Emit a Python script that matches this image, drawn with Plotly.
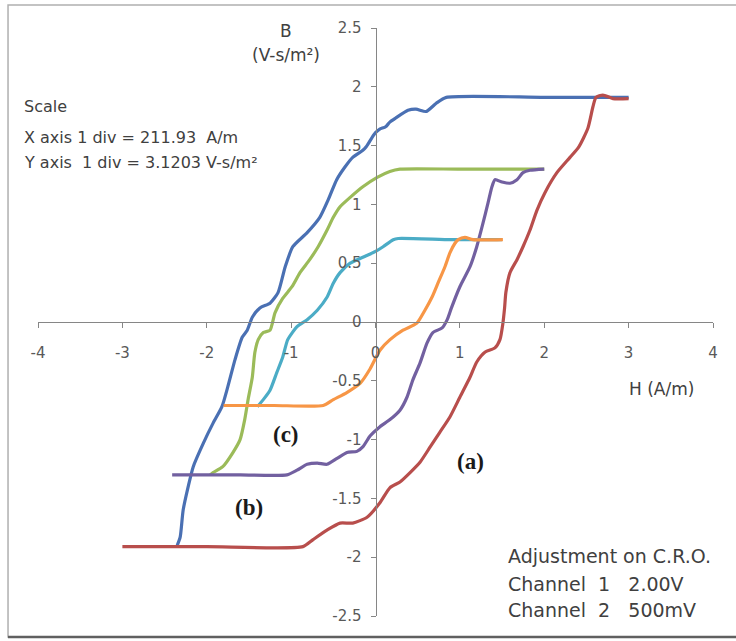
import plotly.graph_objects as go

# ---- data (H in A/m, B in V-s/m^2) ----
a_upper_H = [3.0, 2.0, 0.84, 0.72, 0.60, 0.48, 0.385, 0.24, 0.17, 0.12, 0.05, 0.0, -0.04, -0.11, -0.15,
             -0.27, -0.36, -0.46, -0.56, -0.66, -0.81, -0.98, -1.07, -1.155, -1.25, -1.37, -1.46,
             -1.52, -1.58, -1.665, -1.75, -1.82, -1.925, -2.04, -2.16, -2.22, -2.28, -2.315, -2.35]
a_upper_B = [1.91, 1.91, 1.91, 1.86, 1.79, 1.81, 1.80, 1.735, 1.70, 1.66, 1.64, 1.61, 1.57, 1.49, 1.46,
             1.40, 1.32, 1.21, 1.04, 0.89, 0.76, 0.64, 0.47, 0.25, 0.16, 0.12, 0.04,
             -0.07, -0.13, -0.32, -0.55, -0.72, -0.86, -1.03, -1.23, -1.40, -1.60, -1.83, -1.90]

a_lower_H = [-3.0, -2.0, -0.86, -0.74, -0.575, -0.42, -0.27, -0.10, 0.05, 0.17, 0.29, 0.41, 0.53, 0.65,
             0.76, 0.88, 1.0, 1.12, 1.20, 1.30, 1.415, 1.475, 1.51, 1.53, 1.545, 1.594, 1.677, 1.748,
             1.83, 1.913, 2.008, 2.15, 2.305, 2.41, 2.518, 2.577, 2.613, 2.696, 2.814, 3.0]
a_lower_B = [-1.91, -1.91, -1.91, -1.85, -1.77, -1.71, -1.71, -1.66, -1.54, -1.41, -1.36, -1.28, -1.19, -1.06,
             -0.94, -0.81, -0.64, -0.47, -0.34, -0.255, -0.22, -0.15, -0.01, 0.12, 0.25, 0.42, 0.53, 0.64,
             0.78, 0.95, 1.10, 1.27, 1.40, 1.49, 1.65, 1.83, 1.91, 1.93, 1.90, 1.90]

b_upper_H = [2.0, 1.0, 0.29, 0.17, 0.02, -0.15, -0.30, -0.42, -0.50, -0.575, -0.68, -0.78, -0.895, -0.99,
             -1.10, -1.19, -1.25, -1.33, -1.39, -1.43, -1.46, -1.51, -1.55, -1.605, -1.69, -1.81, -1.925, -1.96]
b_upper_B = [1.30, 1.30, 1.30, 1.28, 1.23, 1.15, 1.06, 0.98, 0.89, 0.78, 0.64, 0.53, 0.42, 0.30,
             0.20, 0.08, -0.07, -0.09, -0.15, -0.26, -0.47, -0.66, -0.83, -1.00, -1.11, -1.23, -1.28, -1.30]

b_lower_H = [-2.41, -1.6, -1.05, -0.93, -0.81, -0.69, -0.575, -0.456, -0.338, -0.22, -0.148, -0.065, 0.053,
             0.172, 0.29, 0.373, 0.444, 0.527, 0.61, 0.68, 0.79, 0.85, 0.90, 1.0, 1.12, 1.20, 1.274,
             1.333, 1.38, 1.416, 1.5, 1.594, 1.677, 1.748, 1.83, 2.0]
b_lower_B = [-1.30, -1.30, -1.30, -1.26, -1.21, -1.20, -1.21, -1.16, -1.11, -1.10, -1.06, -0.97, -0.89,
             -0.83, -0.75, -0.64, -0.49, -0.35, -0.18, -0.09, -0.05, 0.02, 0.12, 0.30, 0.47, 0.64, 0.84,
             1.01, 1.15, 1.21, 1.19, 1.18, 1.21, 1.27, 1.29, 1.30]

c_upper_H = [1.5, 0.9, 0.27, 0.21, 0.09, 0.0, -0.15, -0.30, -0.42, -0.50, -0.575, -0.69, -0.81, -0.93,
             -1.04, -1.10, -1.17, -1.25, -1.33, -1.40]
c_upper_B = [0.70, 0.70, 0.71, 0.70, 0.64, 0.60, 0.55, 0.50, 0.42, 0.33, 0.21, 0.10, 0.02, -0.04,
             -0.15, -0.30, -0.43, -0.58, -0.66, -0.72]

c_lower_H = [-1.80, -1.2, -0.62, -0.50, -0.34, -0.18, -0.065, 0.053, 0.172, 0.326, 0.49, 0.586, 0.669,
             0.74, 0.823, 0.883, 0.942, 0.98, 1.06, 1.155, 1.51]
c_lower_B = [-0.71, -0.71, -0.71, -0.66, -0.60, -0.52, -0.40, -0.24, -0.15, -0.07, -0.01, 0.10, 0.21,
             0.33, 0.47, 0.59, 0.67, 0.70, 0.72, 0.70, 0.70]

x_ticks = [-4, -3, -2, -1, 0, 1, 2, 3, 4]
y_ticks = [-2.5, -2, -1.5, -1, -0.5, 0, 0.5, 1, 1.5, 2, 2.5]

series = [
    (a_upper_H, a_upper_B, "#4A70B3"),
    (a_lower_H, a_lower_B, "#B84E4C"),
    (b_upper_H, b_upper_B, "#9BBB59"),
    (b_lower_H, b_lower_B, "#7260A0"),
    (c_upper_H, c_upper_B, "#4BACC6"),
    (c_lower_H, c_lower_B, "#F79646"),
]

fig = go.Figure()
for hx, by, col in series:
    fig.add_trace(go.Scatter(x=hx, y=by, mode="lines",
                             line=dict(color=col, width=3.2, shape="spline", smoothing=0.6),
                             showlegend=False, hoverinfo="skip"))

axis_col = "#868686"
tick_font = dict(family="DejaVu Sans, sans-serif", size=15, color="#595959")
fig.update_layout(
    width=736, height=641,
    margin=dict(l=38, r=23, t=28, b=25),
    paper_bgcolor="white", plot_bgcolor="white",
    xaxis=dict(range=[-4, 4], domain=[0, 1], anchor="free", position=0.5,
               showline=True, linecolor=axis_col, linewidth=1,
               ticks="outside", ticklen=5, tickcolor=axis_col,
               tickvals=x_ticks, ticktext=[str(v) for v in x_ticks],
               showgrid=False, zeroline=False, tickfont=tick_font, ticklabelstandoff=12),
    yaxis=dict(range=[-2.5, 2.5], domain=[0, 1], anchor="free", position=0.5,
               showline=True, linecolor=axis_col, linewidth=1,
               ticks="outside", ticklen=5, tickcolor=axis_col,
               tickvals=y_ticks, ticktext=[f"{v:g}" for v in y_ticks],
               showgrid=False, zeroline=False, tickfont=tick_font, ticklabelstandoff=6),
)

# chart border
fig.add_shape(type="rect", xref="paper", yref="paper",
              x0=-0.0444, x1=1.04, y0=-0.0357, y1=1.039,
              line=dict(color="#b0b0b0", width=1.5), layer="below")
fig.add_shape(type="line", xref="paper", yref="paper",
              x0=-0.0444, x1=1.04, y0=-0.0357, y1=-0.0357,
              line=dict(color="#606060", width=2.5), layer="below")

txt = dict(family="DejaVu Sans, sans-serif", color="#404040")
def ann(text, x, y, size, xanchor="center", font=None):
    f = dict(txt) if font is None else dict(font)
    f["size"] = size
    fig.add_annotation(text=text, x=x, y=y, xref="paper", yref="paper",
                       xanchor=xanchor, yanchor="middle", showarrow=False, font=f)

ann("B", 0.3674, 0.9949, 17)
ann("(V-s/m²)", 0.3674, 0.9541, 17)
ann("Scale", -0.0237, 0.867, 16, xanchor="left")
ann("X axis 1 div = 211.93\u00a0 A/m", -0.0237, 0.813, 16, xanchor="left")
ann("Y axis\u00a0 1 div = 3.1203 V-s/m²", -0.0237, 0.772, 16, xanchor="left")
ann("H (A/m)", 0.9244, 0.386, 17)
bold = dict(family="Liberation Serif, serif", color="#1a1a1a")
ann("<b>(c)</b>", 0.367, 0.308, 23, font=bold)
ann("<b>(b)</b>", 0.3126, 0.185, 23, font=bold)
ann("<b>(a)</b>", 0.640, 0.262, 23, font=bold)
ann("Adjustment on C.R.O.", 0.693, 0.102, 19, xanchor="left")
ann("Channel\u00a0 1\u00a0\u00a0 2.00V", 0.693, 0.0544, 19, xanchor="left")
ann("Channel\u00a0 2\u00a0\u00a0 500mV", 0.693, 0.0102, 19, xanchor="left")

fig.write_html("out.html", config={"displayModeBar": False},
               post_script="document.body.style.margin='0';document.body.style.overflow='hidden';")
